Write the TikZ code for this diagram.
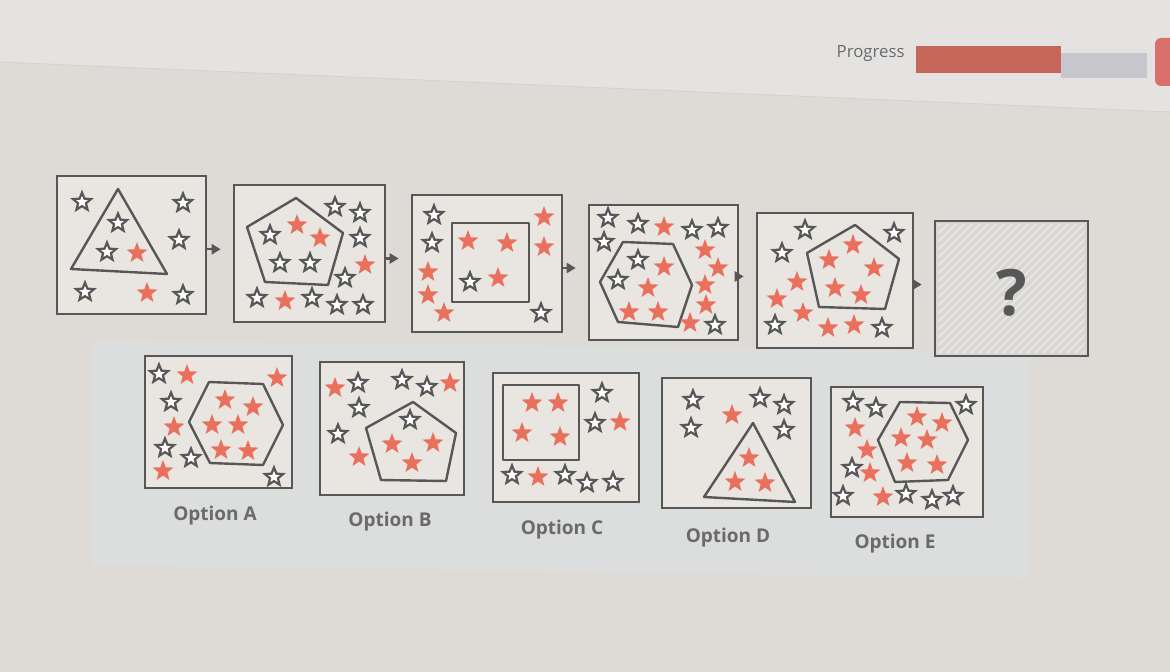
\documentclass[tikz,border=0pt]{standalone}
\usepackage{fontspec}
\setmainfont{Open Sans}
\usetikzlibrary{shapes.geometric,fit,arrows.meta,calc}
\definecolor{bg}{HTML}{DEDBD6}
\definecolor{topbg}{HTML}{E4E3E1}
\definecolor{panelbg}{HTML}{DBDEDD}
\definecolor{boxfill}{HTML}{E9E6E1}
\definecolor{qfill}{HTML}{D9D7D3}
\definecolor{hatch}{HTML}{E9E8E5}
\definecolor{ink}{HTML}{575757}
\definecolor{starred}{HTML}{E9705C}
\definecolor{lbl}{HTML}{6A6A6A}
\definecolor{progred}{HTML}{C6665A}
\definecolor{proggray}{HTML}{C5C7CC}
\definecolor{btnred}{HTML}{D9706C}
\tikzset{
  panel/.style={draw=ink, line width=1.3pt, fill=boxfill, inner sep=0pt},
  rstar/.style={star, star points=5, star point ratio=2.4, minimum size=11pt, inner sep=0pt, fill=starred, draw=none},
  ostar/.style={star, star points=5, star point ratio=2.3, minimum size=9.5pt, inner sep=0pt, fill=white, draw=ink, line width=1.1pt},
  frame/.style={draw=ink, line width=1.2pt, line join=round},
  arr/.style={draw=ink, line width=1.2pt, -{Triangle[length=4.5pt,width=5pt]}, shorten >=6pt},
  optlabel/.style={font=\bfseries\fontsize{9.5}{11}\selectfont, text=lbl},
}
\newcommand\ostars[2]{\foreach \x/\y [count=\i] in {#2} \node[ostar] (#1o\i) at (\x,\y) {};}
\newcommand\rstars[2]{\foreach \x/\y [count=\i] in {#2} \node[rstar] (#1r\i) at (\x,\y) {};}
\begin{document}
\begin{tikzpicture}[x=0.5pt,y=-0.5pt]
\useasboundingbox (0,0) rectangle (1170,672);
% background
\fill[bg] (0,0) rectangle (1170,672);
\fill[topbg] (0,0) -- (1170,0) -- (1170,112) -- (0,62) -- cycle;
\draw[gray!35, line width=0.4pt] (0,62) -- (1170,112);
\fill[panelbg] (92,340) -- (1030,352) -- (1030,578) -- (92,565) -- cycle;
% progress
\node[text=lbl, font=\fontsize{8.4}{10}\selectfont, anchor=east, inner sep=0pt] (prog) at (905,54) {Progress};
\fill[progred] (916,46) rectangle (1061,73);
\fill[proggray] (1061,53) rectangle (1147,78);
\fill[btnred, rounded corners=3pt] (1155,38) rectangle (1185,86);
% sequence boxes
\node[panel, fit={(57,176) (206,314)}] (b1) {};
\node[panel, fit={(234,185) (385,322)}] (b2) {};
\node[panel, fit={(412,195) (562,332)}] (b3) {};
\node[panel, fit={(589,205) (738,340)}] (b4) {};
\node[panel, fit={(757,213) (913,348)}] (b5) {};
\node[panel, fill=qfill, fit={(935,221) (1088,356)}] (b6) {};
\begin{scope}
  \clip ($(b6.south west)+(5,-5)$) rectangle ($(b6.north east)+(-5,5)$);
  \foreach \k in {-160,-152,...,160}
    \draw[hatch, line width=0.8pt] ($(b6.center)+(\k-80,80)$) -- ++(160,-160);
\end{scope}
\node[text=ink, font=\bfseries\fontsize{32}{36}\selectfont] (qm) at ($(b6.center)+(0,4)$) {?};
% arrows
\foreach \a/\b in {b1/b2,b2/b3,b3/b4,b4/b5,b5/b6}{
  \path (\a.east) -- (\b.west) coordinate[pos=0.5] (m\a);
  \draw[arr] (\a.east |- m\a) -- (\b.west |- m\a);
}
% box 1
\draw[frame] (118,189) -- (167,274) -- (71,269) -- cycle;
\ostars{b1}{82/202,118/223,107/252,183/203,179/240,85/292,183/295}
\rstars{b1}{137/253,147/293}
% box 2
\draw[frame] (296,198) -- (343,233) -- (328,285) -- (265,282) -- (247,227) -- cycle;
\ostars{b2}{270/235,280/263,310/263,335/207,360/213,360/238,345/278,257/298,312/298,337/305,363/305}
\rstars{b2}{297/225,320/238,365/265,285/301}
% box 3
\draw[frame] (452,223) rectangle (529,302);
\ostars{b3}{434/215,432/243,470/282,541/313}
\rstars{b3}{428/272,428/295,444/313,468/241,507/243,498/278,544/217,544/247}
% box 4
\draw[frame] (600,282) -- (623,242) -- (673,244) -- (692,285) -- (678,327) -- (618,322) -- cycle;
\ostars{b4}{608/218,638/224,692/230,718/228,604/242,638/260,618/280,715/325}
\rstars{b4}{664/227,664/267,648/288,629/312,658/312,705/250,718/268,705/285,706/305,690/323}
% box 5
\draw[frame] (855,225) -- (899,259) -- (885,309) -- (819,307) -- (807,253) -- cycle;
\ostars{b5}{805/230,782/253,894/233,775/325,882/328}
\rstars{b5}{853/245,829/260,874/268,835/288,861/295,797/282,777/299,803/313,828/328,854/325}
% option boxes
\node[panel, fit={(145,356) (292,488)}] (oa) {};
\node[panel, fit={(320,362) (464,495)}] (ob) {};
\node[panel, fit={(493,373) (639,502)}] (oc) {};
\node[panel, fit={(662,378) (811,508)}] (od) {};
\node[panel, fit={(831,387) (983,517)}] (oe) {};
% option A
\draw[frame] (189,422) -- (209,382) -- (263,384) -- (283,425) -- (263,465) -- (210,463) -- cycle;
\ostars{oa}{159/374,171/402,165/448,191/458,274/477}
\rstars{oa}{187/375,277/378,174/427,163/471,225/400,253/407,212/425,238/425,221/450,248/451}
% option B
\draw[frame] (413,402) -- (456,433) -- (446,481) -- (381,480) -- (366,428) -- cycle;
\ostars{ob}{358/383,402/380,427/387,359/408,338/434,410/420}
\rstars{ob}{335/388,450/383,359/457,392/444,433/443,412/463}
% option C
\draw[frame] (503,385) rectangle (579,460);
\ostars{oc}{602/393,595/423,512/475,565/475,587/483,613/482}
\rstars{oc}{532/403,558/403,522/433,560/437,620/422,538/477}
% option D
\draw[frame] (753,423) -- (795,502) -- (704,497) -- cycle;
\ostars{od}{693/400,691/428,760/398,784/405,784/430}
\rstars{od}{732/415,749/458,735/482,765/483}
% option E
\draw[frame] (878,440) -- (900,402) -- (950,403) -- (968,440) -- (948,480) -- (895,482) -- cycle;
\ostars{oe}{853/402,876/408,966/405,852/468,843/496,906/494,932/500,953/496}
\rstars{oe}{855/428,867/450,870/473,883/497,917/417,942/423,901/438,927/440,907/463,937/465}
% labels
\node[optlabel] (la) at (215,516) {Option A};
\node[optlabel] (lb) at (390,522) {Option B};
\node[optlabel] (lc) at (562,530) {Option C};
\node[optlabel] (ld) at (728,538) {Option D};
\node[optlabel] (le) at (895,544) {Option E};
\end{tikzpicture}
\end{document}
